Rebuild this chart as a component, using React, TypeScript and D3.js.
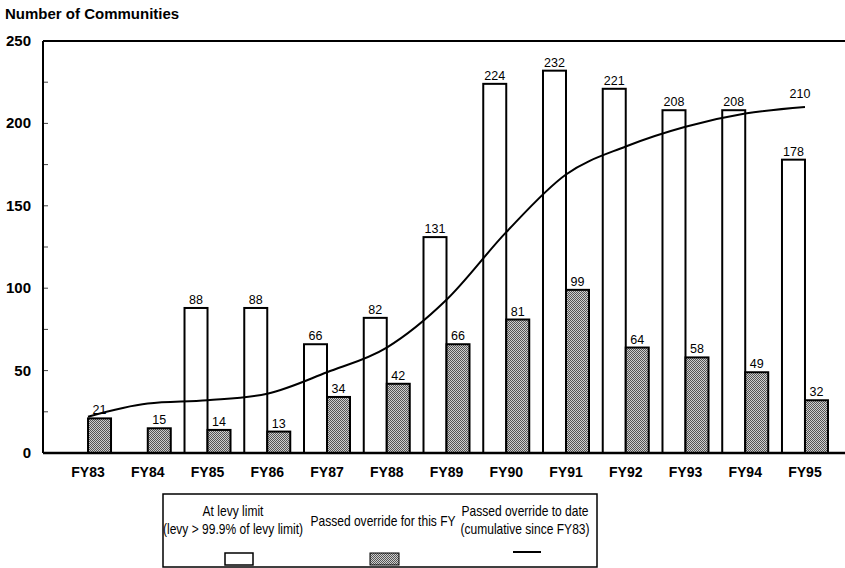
import React from "react";
import * as d3 from "d3";

const categories = ["FY83","FY84","FY85","FY86","FY87","FY88","FY89","FY90","FY91","FY92","FY93","FY94","FY95"];
const atLevyLimit: (number | null)[] = [null, null, 88, 88, 66, 82, 131, 224, 232, 221, 208, 208, 178];
const passedOverride = [21, 15, 14, 13, 34, 42, 66, 81, 99, 64, 58, 49, 32];
const cumulative = [22, 30, 32, 36, 49, 64, 93, 134, 169, 186, 198, 206, 210];
const yTicks = [0, 50, 100, 150, 200, 250];
const minorTicks = [25, 75, 125, 175, 225];

const W = 845, H = 568;
const left = 43, right = 845, top = 41, bottom = 453;
const barW = 23;

function NarrowText({ x, y, children }: { x: number; y: number; children: React.ReactNode }) {
  return (
    <text transform={`translate(${x},${y}) scale(0.86,1)`} x={0} y={0} textAnchor="middle"
      fontSize={14} fontFamily="'Liberation Sans', Arial, sans-serif" fill="#000">{children}</text>
  );
}

export default function App() {
  const x = d3.scaleBand<string>().domain(categories).range([58.15, 834.85]).padding(0);
  const y = d3.scaleLinear().domain([0, 250]).range([bottom, top]);
  const cx = (c: string) => (x(c) as number) + x.bandwidth() / 2;
  const line = d3.line<number>().x((_, i) => cx(categories[i])).y((d) => y(d)).curve(d3.curveMonotoneX);
  const bold = { fontFamily: "'Liberation Sans', Arial, sans-serif", fontWeight: 700 as const };
  const reg = { fontFamily: "'Liberation Sans', Arial, sans-serif" };

  return (
    <svg width={W} height={H} style={{ position: "absolute", left: 0, top: 0, background: "#fff" }}>
      <defs>
        <pattern id="stip" width={2} height={2} patternUnits="userSpaceOnUse">
          <rect width={2} height={2} fill="#cfcfcf" />
          <rect x={0} y={0} width={1} height={1} fill="#555" />
          <rect x={1} y={1} width={1} height={1} fill="#555" />
        </pattern>
      </defs>
      <text x={5} y={19} fontSize={15} {...bold} fill="#000">Number of Communities</text>

      {yTicks.map((t) => (
        <text key={t} x={31} y={y(t) + 5} fontSize={15} textAnchor="end" {...bold} fill="#000">{t}</text>
      ))}
      {[...yTicks, ...minorTicks].map((t) => (
        <line key={"tk" + t} x1={left} x2={left + 5} y1={y(t)} y2={y(t)} stroke="#444" strokeWidth={1} />
      ))}

      {categories.map((c, i) => {
        const v = atLevyLimit[i];
        const xc = cx(c);
        return (
          <g key={c}>
            {v != null && (
              <>
                <rect x={xc - barW} y={y(v)} width={barW} height={bottom - y(v)} fill="#fff" stroke="#000" strokeWidth={2} />
                <text x={xc - barW / 2} y={y(v) - 4} fontSize={12.5} textAnchor="middle" {...reg} fill="#000">{v}</text>
              </>
            )}
            <rect x={xc} y={y(passedOverride[i])} width={barW} height={bottom - y(passedOverride[i])} fill="url(#stip)" stroke="#000" strokeWidth={2} />
            <text x={xc + barW / 2} y={y(passedOverride[i]) - 4} fontSize={12.5} textAnchor="middle" {...reg} fill="#000">{passedOverride[i]}</text>
            <text x={xc} y={477} fontSize={14} textAnchor="middle" {...bold} fill="#000">{c}</text>
          </g>
        );
      })}

      <path d={line(cumulative) || ""} fill="none" stroke="#000" strokeWidth={2} />
      <text x={cx(categories[12]) - 5} y={y(cumulative[12]) - 9} fontSize={12.5} textAnchor="middle" {...reg} fill="#000">{cumulative[12]}</text>

      <line x1={left} x2={right} y1={top} y2={top} stroke="#000" strokeWidth={2} />
      <line x1={left} x2={left} y1={top} y2={bottom} stroke="#000" strokeWidth={2} />
      <line x1={left} x2={right} y1={bottom} y2={bottom} stroke="#000" strokeWidth={2.5} />

      <rect x={163} y={494} width={434} height={73} fill="#fff" stroke="#000" strokeWidth={1.5} />
      <NarrowText x={233} y={516}>At levy limit</NarrowText>
      <NarrowText x={233} y={534}>(levy &gt; 99.9% of levy limit)</NarrowText>
      <NarrowText x={383} y={526}>Passed override for this FY</NarrowText>
      <NarrowText x={525} y={516}>Passed override to date</NarrowText>
      <NarrowText x={525} y={534}>(cumulative since FY83)</NarrowText>
      <rect x={225} y={553} width={28} height={12} fill="#fff" stroke="#000" strokeWidth={1.5} />
      <rect x={370} y={553} width={29} height={12} fill="url(#stip)" stroke="#000" strokeWidth={1} />
      <line x1={513} x2={541} y1={552} y2={552} stroke="#000" strokeWidth={2} />
    </svg>
  );
}
